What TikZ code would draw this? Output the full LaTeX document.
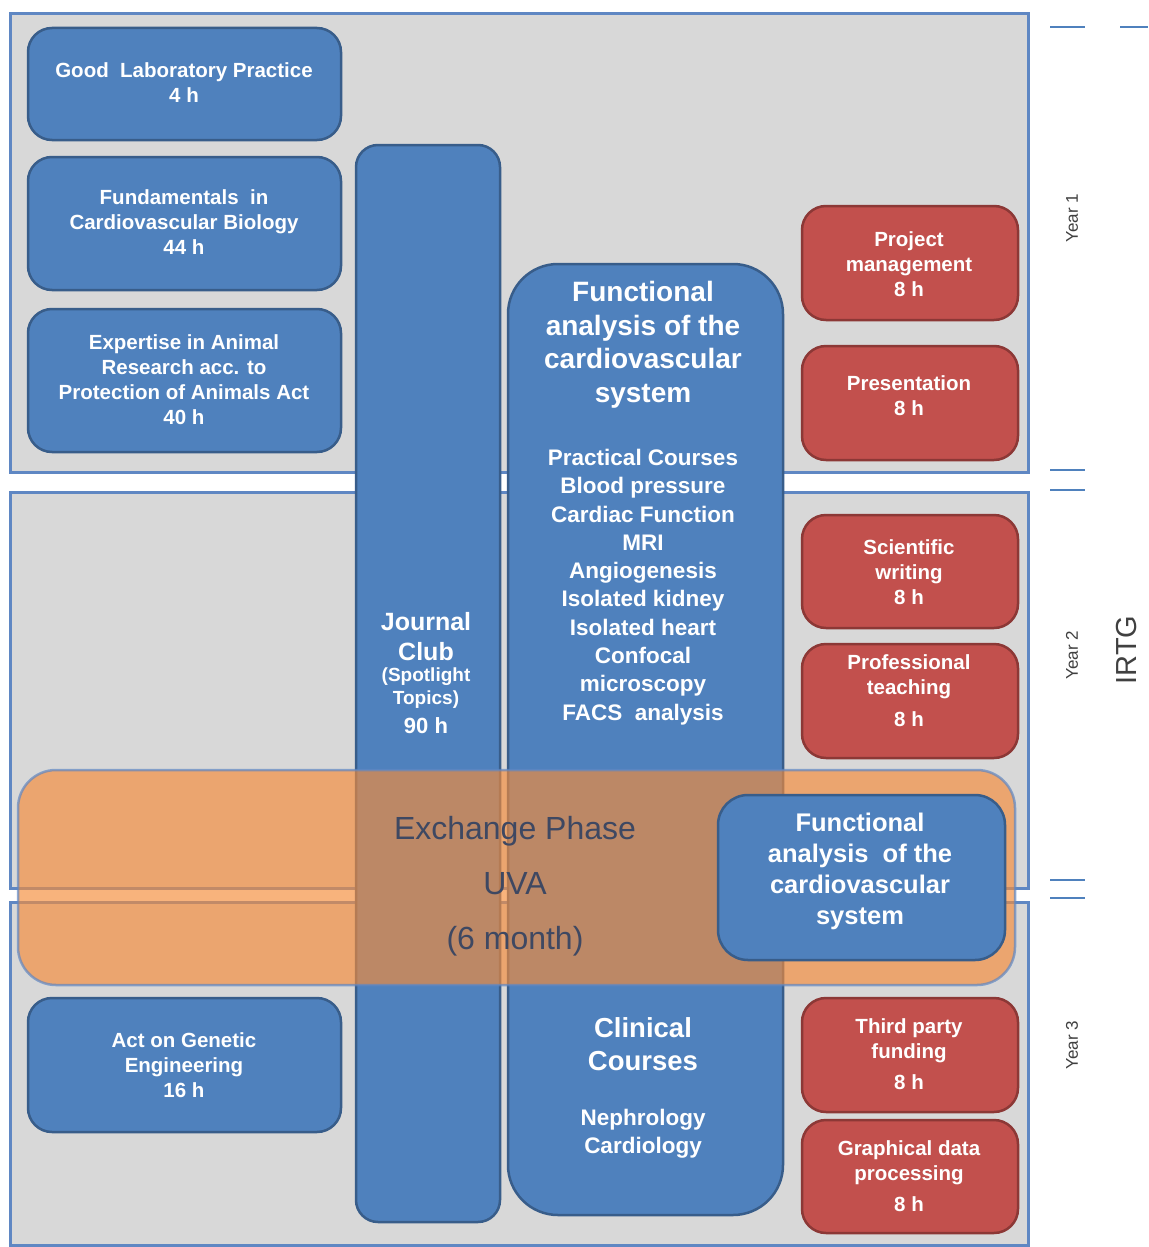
\documentclass[tikz,border=0pt]{standalone}
\usepackage{fontspec}
\setmainfont{Liberation Sans}
\definecolor{panelfill}{RGB}{216,216,216}
\definecolor{panelline}{RGB}{95,135,195}
\definecolor{bfill}{RGB}{79,129,189}
\definecolor{bline}{RGB}{56,93,138}
\definecolor{rfill}{RGB}{194,80,77}
\definecolor{rline}{RGB}{140,56,54}
\definecolor{xorange}{RGB}{245,140,57}
\definecolor{xtext}{RGB}{62,72,98}
\definecolor{ytext}{RGB}{64,64,64}
\definecolor{tickc}{RGB}{79,129,189}
\begin{document}
\begin{tikzpicture}[x=1pt,y=-1pt,
  panel/.style={draw=panelline,line width=3pt,fill=panelfill,inner sep=0,outer sep=0,anchor=north west},
  bbox/.style={draw=bline,line width=2.5pt,fill=bfill,rounded corners=24pt,inner sep=0,outer sep=0,anchor=north west},
  rbox/.style={draw=rline,line width=2.5pt,fill=rfill,rounded corners=24pt,inner sep=0,outer sep=0,anchor=north west},
  wtxt/.style={text=white,font=\bfseries\fontsize{20.5}{25}\selectfont,align=center,inner sep=0},
  ylab/.style={text=ytext,font=\fontsize{17}{20}\selectfont,rotate=90,inner sep=0},
  tickl/.style={draw=tickc,line width=1.5pt}]
\useasboundingbox (0,0) rectangle (1148,1247);
\fill[white] (0,0) rectangle (1148,1247);
% year panels
\node[panel,minimum width=1018pt,minimum height=458pt] (p1) at (10,14) {};
\node[panel,minimum width=1018pt,minimum height=396pt] (p2) at (10,492) {};
\node[panel,minimum width=1018pt,minimum height=343pt] (p3) at (10,902) {};
% left blue boxes
\node[bbox,minimum width=313pt,minimum height=112pt] (glp) at (28,28) {};
\node[bbox,minimum width=313pt,minimum height=133pt] (fund) at (28,157) {};
\node[bbox,minimum width=313pt,minimum height=143pt] (exp) at (28,309) {};
\node[bbox,minimum width=313pt,minimum height=134pt] (act) at (28,998) {};
\node[wtxt] (glpt) at (184,83) {Good\ \ Laboratory Practice\\4 h};
\node[wtxt] (fundt) at (184,222) {Fundamentals\ \ in\\Cardiovascular Biology\\44 h};
\node[wtxt] (expt) at (184,380) {Expertise in Animal\\Research acc. to\\Protection of Animals Act\\40 h};
\node[wtxt] (actt) at (184,1065) {Act on Genetic\\Engineering\\16 h};
% red boxes
\node[rbox,minimum width=216pt,minimum height=114pt] (pm) at (802,206) {};
\node[rbox,minimum width=216pt,minimum height=114pt] (pres) at (802,346) {};
\node[rbox,minimum width=216pt,minimum height=113pt] (sw) at (802,515) {};
\node[rbox,minimum width=216pt,minimum height=114pt] (pt) at (802,644) {};
\node[rbox,minimum width=216pt,minimum height=114pt] (tpf) at (802,998) {};
\node[rbox,minimum width=216pt,minimum height=113pt] (gdp) at (802,1120) {};
\node[wtxt] (pmt) at (909,264) {Project\\management\\8 h};
\node[wtxt] (prest) at (909,396) {Presentation\\8 h};
\node[wtxt] (swt) at (909,572) {Scientific\\writing\\8 h};
\node[wtxt] (ptt) at (909,691) {Professional\\teaching\\[7pt]8 h};
\node[wtxt] (tpft) at (909,1054) {Third party\\funding\\[6pt]8 h};
\node[wtxt] (gdpt) at (909,1176) {Graphical data\\processing\\[6pt]8 h};
% columns
\node[bbox,rounded corners=22pt,minimum width=144pt,minimum height=1077pt] (jc) at (356,145) {};
\node[bbox,rounded corners=50pt,minimum width=275pt,minimum height=951pt] (fa) at (508,264) {};
\node[wtxt,font=\bfseries\fontsize{25}{30}\selectfont] (jct) at (426,637) {Journal\\Club};
\node[wtxt,font=\bfseries\fontsize{19}{23}\selectfont,anchor=north] (jcs) at (426,668) {(Spotlight\\Topics)};
\node[wtxt,font=\bfseries\fontsize{22}{26}\selectfont] (jch) at (426,726) {90 h};
\node[wtxt,font=\bfseries\fontsize{28}{33.5}\selectfont] (fat) at (643,345) {Functional\\analysis of the\\cardiovascular\\system};
\node[wtxt,font=\bfseries\fontsize{22.5}{28.3}\selectfont] (fal) at (643,587) {Practical Courses\\Blood pressure\\Cardiac Function\\MRI\\Angiogenesis\\Isolated kidney\\Isolated heart\\Confocal\\microscopy\\FACS\ \ analysis};
\node[wtxt,font=\bfseries\fontsize{27.5}{33}\selectfont] (cct) at (643,1044) {Clinical\\Courses};
\node[wtxt,font=\bfseries\fontsize{22.5}{28}\selectfont] (ccl) at (643,1134) {Nephrology\\Cardiology};
% exchange phase band
\node[draw=panelline,draw opacity=0.7,line width=2.5pt,fill=xorange,fill opacity=0.66,rounded corners=38pt,
      minimum width=997pt,minimum height=215pt,inner sep=0,outer sep=0,anchor=north west] (ex) at (18,770) {};
\node[text=xtext,font=\fontsize{32}{55}\selectfont,align=center,inner sep=0] (ext) at (515,886) {Exchange Phase\\UVA\\(6 month)};
\node[bbox,rounded corners=30pt,minimum width=287pt,minimum height=165pt] (fa2) at (718,795) {};
\node[wtxt,font=\bfseries\fontsize{25.5}{31}\selectfont] (fa2t) at (860,871) {Functional\\analysis\ \ of the\\cardiovascular\\system};
% year labels
\node[ylab] (y1) at (1072,218) {Year 1};
\node[ylab] (y2) at (1072,655) {Year 2};
\node[ylab] (y3) at (1072,1045) {Year 3};
\node[text=ytext,font=\fontsize{29}{33}\selectfont,rotate=90,inner sep=0] (irtg) at (1127,650) {IRTG};
% ticks
\draw[tickl] (1050,27) -- (1085,27);
\draw[tickl] (1120,27) -- (1148,27);
\draw[tickl] (1050,470) -- (1085,470);
\draw[tickl] (1050,490) -- (1085,490);
\draw[tickl] (1050,880) -- (1085,880);
\draw[tickl] (1050,898) -- (1085,898);
\end{tikzpicture}
\end{document}
